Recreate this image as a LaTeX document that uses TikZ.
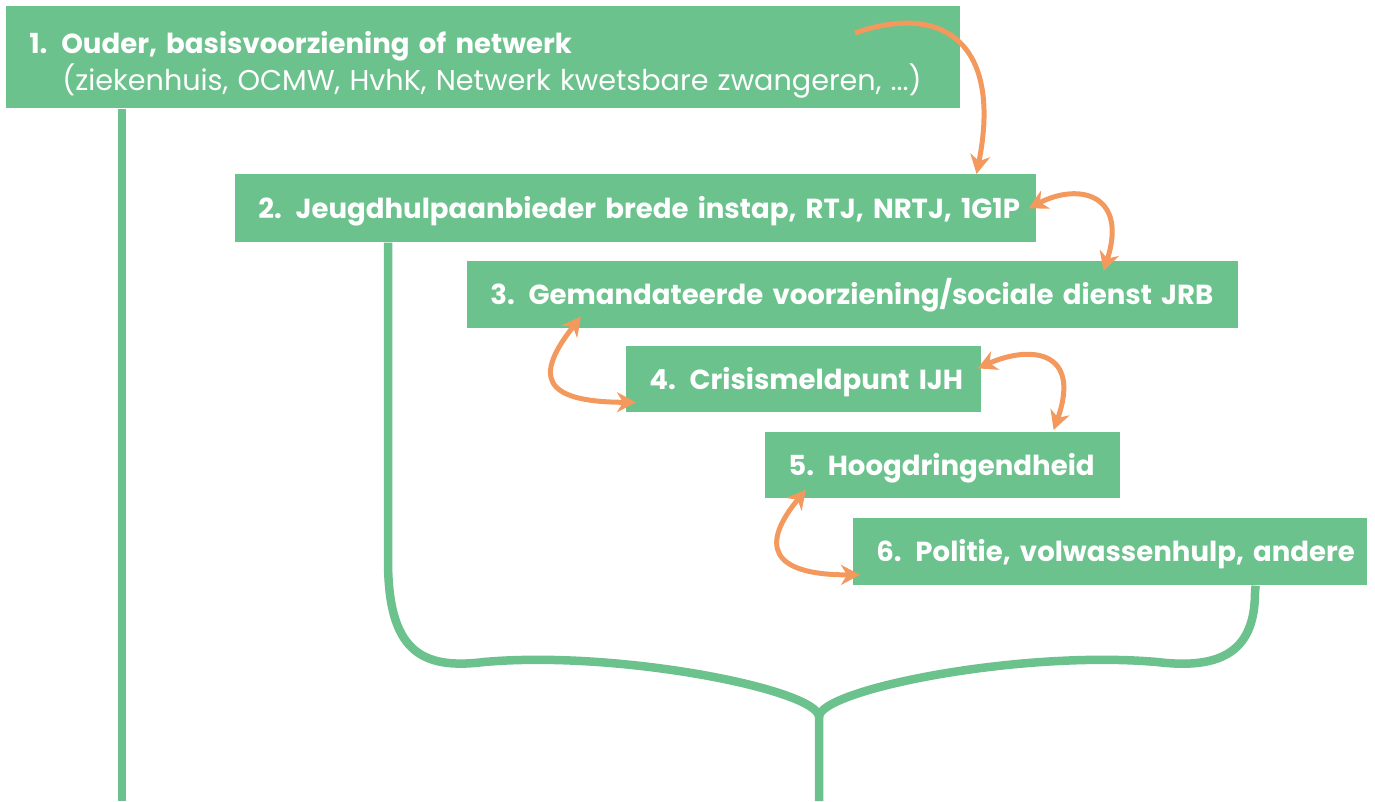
\documentclass[tikz,border=0pt]{standalone}
\usepackage{fontspec}
\setmainfont{Poppins}
\usetikzlibrary{arrows.meta,calc}
\definecolor{groen}{RGB}{107,194,140}
\definecolor{oranje}{RGB}{244,153,94}

\begin{document}
\begin{tikzpicture}[x=0.02cm, y=-0.02cm,
		stap/.style={fill=groen, text=white, anchor=north west, inner xsep=0pt,
			inner ysep=0pt, align=left, execute at begin node={\hspace*{0.46cm}},
			font=\bfseries\fontsize{15.7}{19}\selectfont},
		eenregel/.style={stap, text height=0.54cm, text depth=0.14cm},
		tak/.style={groen, line width=0.17cm},
		pijl/.style={oranje, line width=0.1cm,
			-{Stealth[length=0.38cm, width=0.4cm, inset=0.12cm]}},
		tweepijl/.style={pijl, {Stealth[length=0.38cm, width=0.4cm, inset=0.12cm]}-{Stealth[length=0.38cm, width=0.4cm, inset=0.12cm]}}]
	\useasboundingbox (0,0) rectangle (1375,801);
	\node[stap, minimum height=2.04cm, text width=19.08cm, text depth=0.6cm] (b1) at (6,6)
		{1. Ouder, basisvoorziening of netwerk\\[0.5pt]
		\hspace*{1.12cm}\mdseries\fontsize{16.3}{19}\selectfont(ziekenhuis, OCMW, HvhK, Netwerk kwetsbare zwangeren, ...)};
	\node[eenregel, minimum height=1.36cm, text width=16.02cm] (b2) at (235,174)
		{2. Jeugdhulpaanbieder brede instap, RTJ, NRTJ, 1G1P};
	\node[eenregel, minimum height=1.34cm, text width=15.42cm] (b3) at (467,261)
		{3. Gemandateerde voorziening/sociale dienst JRB};
	\node[eenregel, minimum height=1.32cm, text width=7.1cm] (b4) at (626,346)
		{4. Crisismeldpunt IJH};
	\node[eenregel, minimum height=1.32cm, text width=7.1cm] (b5) at (765,432)
		{5. Hoogdringendheid};
	\node[eenregel, minimum height=1.34cm, text width=10.28cm] (b6) at (853,518)
		{6. Politie, volwassenhulp, andere};
	% groene lijnen
	\coordinate (voet1) at (122,801);
	\coordinate (voet2) at (819,801);
	\coordinate (punt) at (819,717);
	\draw[tak] (b1.south -| voet1) -- (voet1);
	\draw[tak] ($(b2.south west)+(153,0)$) -- (388,560) .. controls (388,650) and (420,670) .. (484,662)
		.. controls (620,650) and (819,690) .. (punt) -- (voet2);
	\draw[tak] ($(b6.south east)+(-112,0)$) -- (1255,592) .. controls (1255,650) and (1223,670) .. (1157,662)
		.. controls (1018,650) and (819,690) .. (punt);
	% oranje pijlen
	\coordinate (bron) at (855,33);
	\draw[pijl] (bron) .. controls (940,3) and (1003,40) .. ($(b2.north east)+(-60,0)$);
	\draw[tweepijl] ($(b2.east)+(-8,0)$) .. controls (1080,182) and (1128,195) .. ($(b3.north east)+(-135,10)$);
	\draw[tweepijl] ($(b3.south west)+(114,-12)$) .. controls (535,375) and (540,402) .. ($(b4.west)+(10,23)$);
	\draw[tweepijl] ($(b4.east)+(-4,-11)$) .. controls (1030,345) and (1082,350) .. ($(b5.north east)+(-67,-2)$);
	\draw[tweepijl] ($(b5.south west)+(41,-9)$) .. controls (760,545) and (770,575) .. ($(b6.west)+(7,23)$);
\end{tikzpicture}
\end{document}
